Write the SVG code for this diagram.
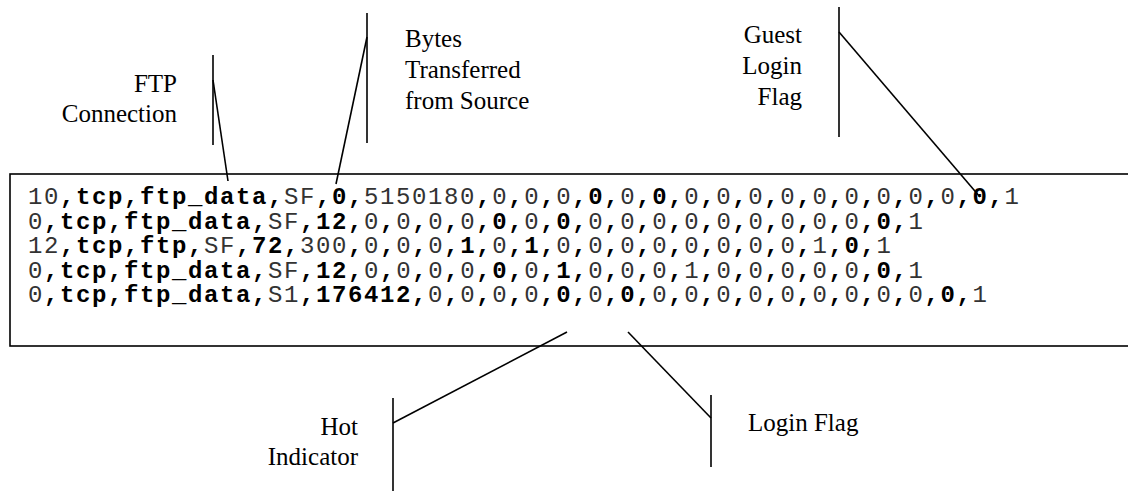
<svg xmlns="http://www.w3.org/2000/svg" width="1128" height="491" viewBox="0 0 1128 491">
<style>
.lbl{font-family:'Liberation Serif','Times New Roman',Times,serif;font-size:25px;fill:#000}
.mono{font-family:'Liberation Mono','Courier New',monospace;font-size:24px;letter-spacing:1.6px;fill:#333}
.b{font-weight:bold;fill:#000}
.ln{stroke:#000;stroke-width:1.6;fill:none}
</style>
<rect width="1128" height="491" fill="#fff"/>
<g id="record-box">
<rect class="ln" x="10" y="174" width="1130" height="172" stroke-width="2"/>
<text class="mono" x="28" y="204">10<tspan class="b">,tcp,ftp_data,</tspan>SF<tspan class="b">,0,</tspan>5150180<tspan class="b">,</tspan>0<tspan class="b">,</tspan>0<tspan class="b">,</tspan>0<tspan class="b">,0,</tspan>0<tspan class="b">,0,</tspan>0<tspan class="b">,</tspan>0<tspan class="b">,</tspan>0<tspan class="b">,</tspan>0<tspan class="b">,</tspan>0<tspan class="b">,</tspan>0<tspan class="b">,</tspan>0<tspan class="b">,</tspan>0<tspan class="b">,</tspan>0<tspan class="b">,0,</tspan>1</text>
<text class="mono" x="28" y="228.5">0<tspan class="b">,tcp,ftp_data,</tspan>SF<tspan class="b">,12,</tspan>0<tspan class="b">,</tspan>0<tspan class="b">,</tspan>0<tspan class="b">,</tspan>0<tspan class="b">,0,</tspan>0<tspan class="b">,0,</tspan>0<tspan class="b">,</tspan>0<tspan class="b">,</tspan>0<tspan class="b">,</tspan>0<tspan class="b">,</tspan>0<tspan class="b">,</tspan>0<tspan class="b">,</tspan>0<tspan class="b">,</tspan>0<tspan class="b">,</tspan>0<tspan class="b">,0,</tspan>1</text>
<text class="mono" x="28" y="253">12<tspan class="b">,tcp,ftp,</tspan>SF<tspan class="b">,72,</tspan>300<tspan class="b">,</tspan>0<tspan class="b">,</tspan>0<tspan class="b">,</tspan>0<tspan class="b">,1,</tspan>0<tspan class="b">,1,</tspan>0<tspan class="b">,</tspan>0<tspan class="b">,</tspan>0<tspan class="b">,</tspan>0<tspan class="b">,</tspan>0<tspan class="b">,</tspan>0<tspan class="b">,</tspan>0<tspan class="b">,</tspan>0<tspan class="b">,</tspan>1<tspan class="b">,0,</tspan>1</text>
<text class="mono" x="28" y="277.5">0<tspan class="b">,tcp,ftp_data,</tspan>SF<tspan class="b">,12,</tspan>0<tspan class="b">,</tspan>0<tspan class="b">,</tspan>0<tspan class="b">,</tspan>0<tspan class="b">,0,</tspan>0<tspan class="b">,1,</tspan>0<tspan class="b">,</tspan>0<tspan class="b">,</tspan>0<tspan class="b">,</tspan>1<tspan class="b">,</tspan>0<tspan class="b">,</tspan>0<tspan class="b">,</tspan>0<tspan class="b">,</tspan>0<tspan class="b">,</tspan>0<tspan class="b">,0,</tspan>1</text>
<text class="mono" x="28" y="302">0<tspan class="b">,tcp,ftp_data,</tspan>S1<tspan class="b">,176412,</tspan>0<tspan class="b">,</tspan>0<tspan class="b">,</tspan>0<tspan class="b">,</tspan>0<tspan class="b">,0,</tspan>0<tspan class="b">,0,</tspan>0<tspan class="b">,</tspan>0<tspan class="b">,</tspan>0<tspan class="b">,</tspan>0<tspan class="b">,</tspan>0<tspan class="b">,</tspan>0<tspan class="b">,</tspan>0<tspan class="b">,</tspan>0<tspan class="b">,</tspan>0<tspan class="b">,0,</tspan>1</text>
</g>
<g id="label-ftp">
<text class="lbl" text-anchor="end" x="177" y="92">FTP</text>
<text class="lbl" text-anchor="end" x="177" y="122">Connection</text>
</g>
<g id="label-bytes">
<text class="lbl" x="405" y="47">Bytes</text>
<text class="lbl" x="405" y="78">Transferred</text>
<text class="lbl" x="405" y="109">from Source</text>
</g>
<g id="label-guest">
<text class="lbl" text-anchor="end" x="802" y="43">Guest</text>
<text class="lbl" text-anchor="end" x="802" y="74">Login</text>
<text class="lbl" text-anchor="end" x="802" y="105">Flag</text>
</g>
<g id="label-hot">
<text class="lbl" text-anchor="end" x="358" y="435">Hot</text>
<text class="lbl" text-anchor="end" x="358" y="465">Indicator</text>
</g>
<g id="label-login">
<text class="lbl" x="748" y="431">Login Flag</text>
</g>
<g id="connectors">
<line class="ln" x1="213" y1="55" x2="213" y2="145"/>
<line class="ln" x1="213" y1="80" x2="228" y2="181"/>
<line class="ln" x1="367" y1="13" x2="367" y2="143"/>
<line class="ln" x1="367" y1="37" x2="336" y2="184"/>
<line class="ln" x1="839" y1="7" x2="839" y2="137"/>
<line class="ln" x1="839" y1="32" x2="980" y2="197"/>
<line class="ln" x1="393" y1="398" x2="393" y2="491"/>
<line class="ln" x1="393" y1="423" x2="567" y2="332"/>
<line class="ln" x1="711" y1="395" x2="711" y2="467"/>
<line class="ln" x1="711" y1="418" x2="628" y2="332"/>
</g>
</svg>
